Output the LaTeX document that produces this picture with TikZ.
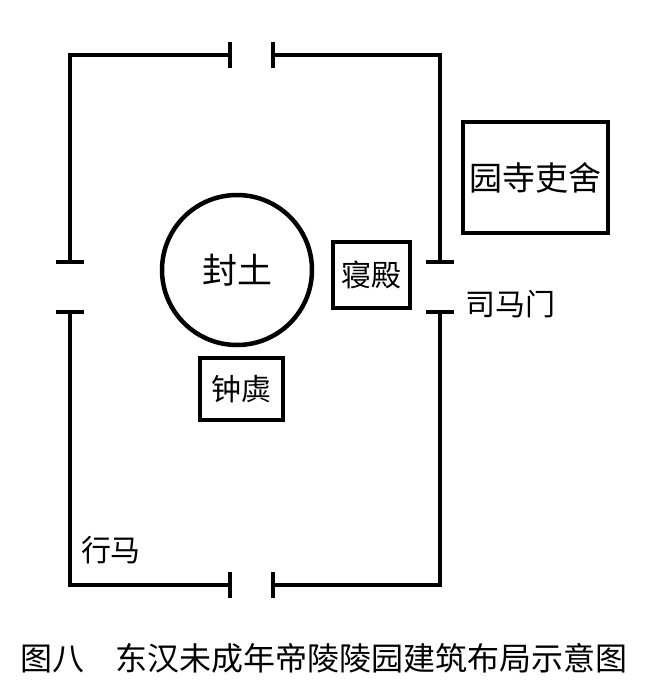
\documentclass[tikz,border=0pt]{standalone}
\usepackage{fontspec}
\setmainfont{Noto Sans CJK SC}
\begin{document}
\begin{tikzpicture}[x=1pt,y=-1pt,wall/.style={line width=4.5pt},
 box/.style={draw,line width=4.5pt,inner sep=0pt},
 lbl/.style={font=\fontsize{30}{32}\selectfont}]
\useasboundingbox (0,0) rectangle (646,697);
\draw[wall] (230,42)--(230,68);
\draw[wall] (273,42)--(273,68);
\draw[wall] (70,262)--(70,55)--(230,55);
\draw[wall] (273,55)--(440,55)--(440,262);
\draw[wall] (56,262)--(84,262);
\draw[wall] (426,262)--(454,262);
\draw[wall] (56,312)--(84,312);
\draw[wall] (426,312)--(454,312);
\draw[wall] (70,312)--(70,585)--(230,585);
\draw[wall] (273,585)--(440,585)--(440,312);
\draw[wall] (230,572)--(230,598);
\draw[wall] (273,572)--(273,598);
\node[draw,circle,line width=4.5pt,minimum size=150pt,inner sep=0pt,font=\fontsize{35}{37}\selectfont] (ft) at (237,270) {封土};
\node[box,minimum width=77pt,minimum height=66pt,lbl] (qd) at (371.5,275) {寝殿};
\node[box,minimum width=83pt,minimum height=62pt,lbl] (zj) at (241.5,389) {钟虡};
\node[box,minimum width=145pt,minimum height=111pt,font=\fontsize{33}{35}\selectfont] (ys) at (535.5,177.5) {园寺吏舍};
\node[lbl] (smm) at (510,304) {司马门};
\node[lbl] (xm) at (111,550) {行马};
\node[font=\fontsize{32}{34}\selectfont] (cap) at (324,658) {图八\quad 东汉未成年帝陵陵园建筑布局示意图};
\end{tikzpicture}
\end{document}
